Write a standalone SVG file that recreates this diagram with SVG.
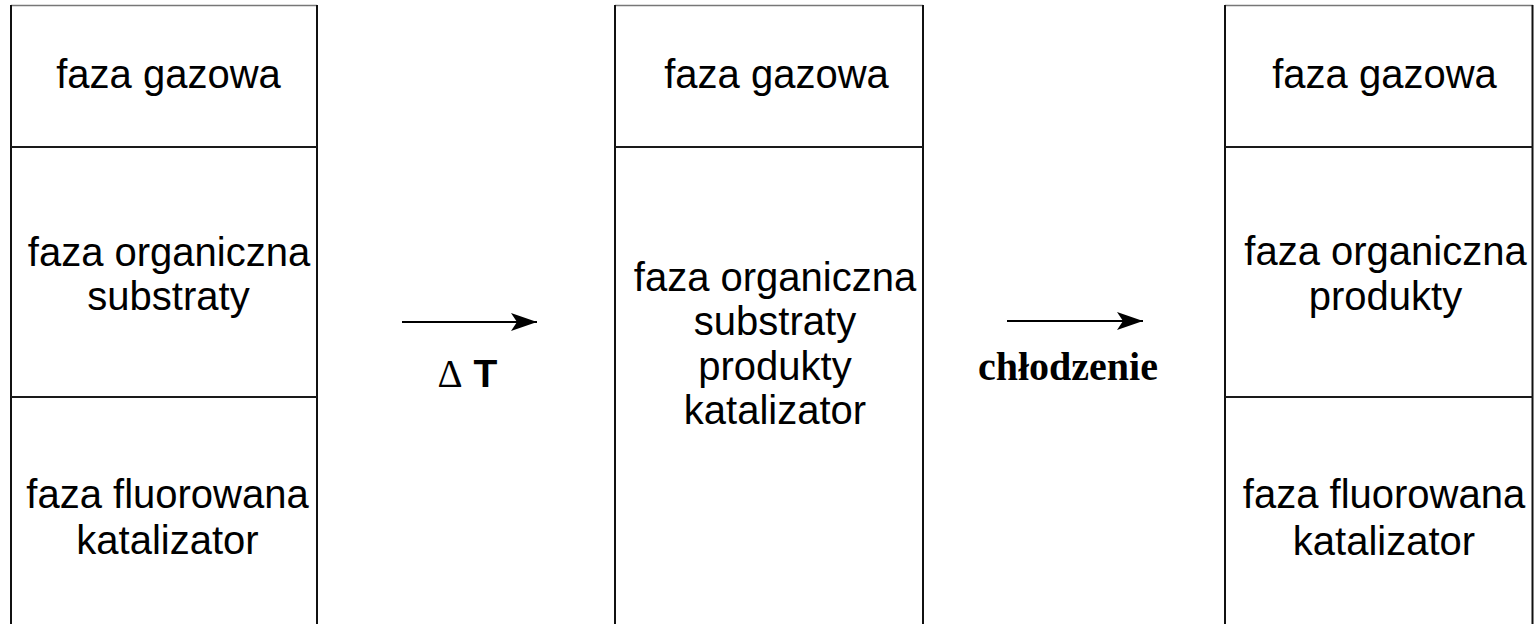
<svg xmlns="http://www.w3.org/2000/svg" width="1534" height="624" viewBox="0 0 1534 624">
<style>
.side{stroke:#111;stroke-width:2;fill:none}
.top{stroke:#777;stroke-width:1.5;fill:none}
.div{stroke:#1a1a1a;stroke-width:2;fill:none}
.t{font-family:"Liberation Sans",Arial,sans-serif;font-size:40px;fill:#000;text-anchor:middle}
.conn{stroke:#000;stroke-width:2;fill:none}
</style>
<defs>
<marker id="ah" markerUnits="userSpaceOnUse" markerWidth="28" markerHeight="20" refX="26" refY="9" orient="auto">
<path d="M0,0 L26,9 L0,18 L6,9 Z" fill="#000"/>
</marker>
</defs>
<rect width="1534" height="624" fill="#fff"/>
<g id="box-left">
<line class="top" x1="11" y1="5.5" x2="317" y2="5.5"/>
<line class="side" x1="11" y1="5" x2="11" y2="624"/>
<line class="side" x1="317" y1="5" x2="317" y2="624"/>
<line class="div" x1="11" y1="147" x2="317" y2="147"/>
<line class="div" x1="11" y1="397" x2="317" y2="397"/>
<text class="t" x="168.5" y="88">faza gazowa</text>
<text class="t" x="169" y="266">faza organiczna</text>
<text class="t" x="168.5" y="310">substraty</text>
<text class="t" x="167.5" y="508">faza fluorowana</text>
<text class="t" x="167.5" y="554">katalizator</text>
</g>
<g id="box-middle">
<line class="top" x1="615" y1="5.5" x2="923" y2="5.5"/>
<line class="side" x1="615" y1="5" x2="615" y2="624"/>
<line class="side" x1="923" y1="5" x2="923" y2="624"/>
<line class="div" x1="615" y1="147" x2="923" y2="147"/>
<text class="t" x="776.5" y="88">faza gazowa</text>
<text class="t" x="775" y="291">faza organiczna</text>
<text class="t" x="775" y="335">substraty</text>
<text class="t" x="775" y="380">produkty</text>
<text class="t" x="775" y="424">katalizator</text>
</g>
<g id="box-right">
<line class="top" x1="1225" y1="5.5" x2="1533" y2="5.5"/>
<line class="side" x1="1225" y1="5" x2="1225" y2="624"/>
<line class="side" x1="1532.5" y1="5" x2="1532.5" y2="624"/>
<line class="div" x1="1225" y1="147" x2="1533" y2="147"/>
<line class="div" x1="1225" y1="397" x2="1533" y2="397"/>
<text class="t" x="1384.5" y="88">faza gazowa</text>
<text class="t" x="1385.5" y="265">faza organiczna</text>
<text class="t" x="1385.5" y="310">produkty</text>
<text class="t" x="1384" y="508">faza fluorowana</text>
<text class="t" x="1384" y="555">katalizator</text>
</g>
<g id="connectors">
<line class="conn" x1="402" y1="322" x2="537" y2="322" marker-end="url(#ah)"/>
<text x="467.5" y="387" text-anchor="middle" font-size="39" fill="#000"><tspan font-family="Liberation Serif, serif">Δ</tspan><tspan font-family="Liberation Sans, Arial, sans-serif" font-weight="bold"> T</tspan></text>
<line class="conn" x1="1007" y1="321" x2="1143" y2="321" marker-end="url(#ah)"/>
<text x="1068" y="380" text-anchor="middle" font-family="Liberation Serif, serif" font-weight="bold" font-size="40" fill="#000">chłodzenie</text>
</g>
</svg>
